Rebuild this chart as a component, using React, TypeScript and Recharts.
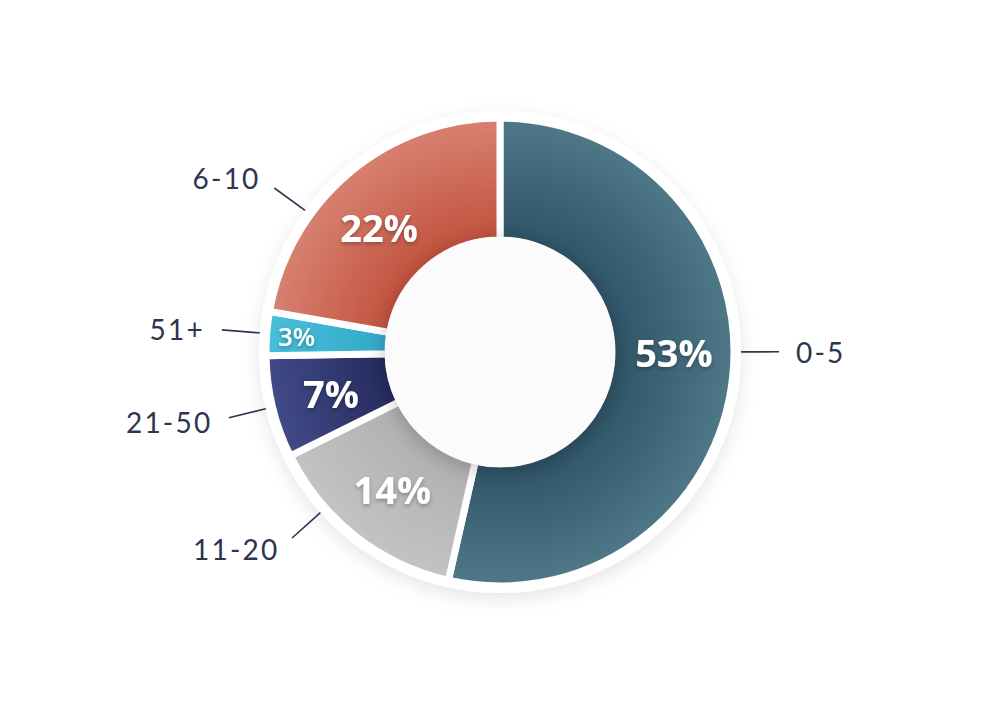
import { PieChart, Pie, Cell } from "recharts";

const groups = ["0-5", "11-20", "21-50", "51+", "6-10"];
const shares = [53, 14, 7, 3, 22];

const sliceData = groups.map((name, i) => ({ name, value: shares[i] }));
const disc = [{ value: 1 }];

// inner/outer gradient stops for each slice
const palette: Record<string, [string, string]> = {
  "0-5": ["#2f5568", "#4f7889"],
  "11-20": ["#b0b0b0", "#c3c3c3"],
  "21-50": ["#262b5e", "#414b87"],
  "51+": ["#33a9c9", "#48c0da"],
  "6-10": ["#c2533f", "#d88171"],
};

// designer's manual nudges of label angles (degrees)
const nudge: Record<string, { line: number; pct: number }> = {
  "0-5": { line: 6.4, pct: 6.4 },
  "6-10": { line: 14, pct: 4 },
  "11-20": { line: -10, pct: 0 },
};

const RAD = Math.PI / 180;
const INK = "#2d3550";

function polar(cx: number, cy: number, r: number, a: number) {
  return [cx + r * Math.cos(-a * RAD), cy + r * Math.sin(-a * RAD)];
}

function renderLabel(props: any) {
  const { cx, cy, midAngle, name, value } = props;
  const tw = nudge[name] || { line: 0, pct: 0 };
  const la = midAngle + tw.line;
  const pa = midAngle + tw.pct;
  const [x1, y1] = polar(cx, cy, 241, la);
  const [x2, y2] = polar(cx, cy, 279, la);
  const [tx, ty] = polar(cx, cy, 296, la);
  const right = Math.cos(-la * RAD) >= 0;
  const small = value < 5;
  const [px, py] = polar(cx, cy, small ? 204 : 174, pa);
  return (
    <g>
      <line x1={x1} y1={y1} x2={x2} y2={y2} stroke={INK} strokeWidth={1.6} />
      <text
        x={tx}
        y={ty}
        textAnchor={right ? "start" : "end"}
        dominantBaseline="central"
        fill={INK}
        fontSize={28}
        letterSpacing={2.2}
        fontFamily="Lato, 'Open Sans', sans-serif"
      >
        {name}
      </text>
      <text
        x={px}
        y={py}
        textAnchor="middle"
        dominantBaseline="central"
        fill="#ffffff"
        fontSize={small ? 26 : 38}
        fontWeight={small ? 600 : 700}
        fontFamily="'Open Sans', sans-serif"
        filter="url(#txtShadow)"
      >
        {value}%
      </text>
    </g>
  );
}

export default function App() {
  return (
    <div style={{ position: "absolute", left: 0, top: 0, width: 999, height: 705, background: "#ffffff" }}>
      <PieChart width={999} height={705} margin={{ top: 0, right: 0, bottom: 0, left: 0 }}>
        <defs>
          <filter id="ringShadow" x="-20%" y="-20%" width="140%" height="140%">
            <feDropShadow dx="0" dy="6" stdDeviation="9" floodColor="#000" floodOpacity="0.10" />
          </filter>
          <filter id="discShadow" x="-30%" y="-30%" width="160%" height="160%">
            <feDropShadow dx="0" dy="4" stdDeviation="10" floodColor="#000" floodOpacity="0.22" />
          </filter>
          <filter id="txtShadow" x="-20%" y="-20%" width="140%" height="140%">
            <feDropShadow dx="0" dy="2" stdDeviation="2" floodColor="#000" floodOpacity="0.3" />
          </filter>
          {groups.map((g, i) => (
            <radialGradient key={g} id={`grad${i}`} gradientUnits="userSpaceOnUse" cx={500} cy={352} r={234}>
              <stop offset="0.5" stopColor={palette[g][0]} />
              <stop offset="1" stopColor={palette[g][1]} />
            </radialGradient>
          ))}
        </defs>
        <Pie
          data={disc}
          dataKey="value"
          cx={500}
          cy={352}
          outerRadius={241}
          innerRadius={0}
          fill="#ffffff"
          stroke="none"
          filter="url(#ringShadow)"
          isAnimationActive={false}
        />
        <Pie
          data={sliceData}
          dataKey="value"
          nameKey="name"
          cx={500}
          cy={352}
          outerRadius={234}
          innerRadius={112}
          startAngle={90}
          endAngle={-270}
          stroke="#ffffff"
          strokeWidth={7}
          label={renderLabel}
          labelLine={false}
          isAnimationActive={false}
        >
          {sliceData.map((d, i) => (
            <Cell key={d.name} fill={`url(#grad${i})`} />
          ))}
        </Pie>
        <Pie
          data={disc}
          dataKey="value"
          cx={500}
          cy={352}
          outerRadius={115}
          innerRadius={0}
          fill="#fbfbfb"
          stroke="none"
          filter="url(#discShadow)"
          isAnimationActive={false}
        />
      </PieChart>
    </div>
  );
}
